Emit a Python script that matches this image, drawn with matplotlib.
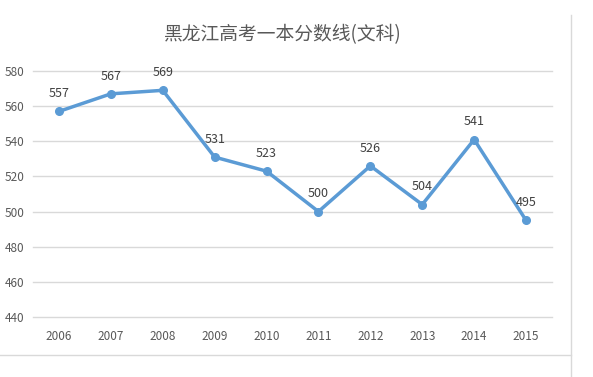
import matplotlib
matplotlib.use("Agg")
import matplotlib.pyplot as plt
from matplotlib.lines import Line2D

plt.rcParams['font.family'] = ['Noto Sans CJK SC', 'DejaVu Sans']

# data
years = ['2006', '2007', '2008', '2009', '2010', '2011', '2012', '2013', '2014', '2015']
scores = [557, 567, 569, 531, 523, 500, 526, 504, 541, 495]
y_ticks = [440, 460, 480, 500, 520, 540, 560, 580]

fig = plt.figure(figsize=(5.93, 3.77), dpi=100)
ax = fig.add_axes([33/593, 1-317/377, (552-33)/593, (317-71)/377])

x = list(range(len(years)))
ax.plot(x, scores, color='#5B9BD5', linewidth=2.5, marker='o', markersize=5.5, zorder=3)
for xi, v in zip(x, scores):
    ax.annotate(str(v), (xi, v), textcoords='offset points', xytext=(0, 8),
                ha='center', va='bottom', fontsize=9, color='#404040')

ax.set_xlim(-0.5, len(years) - 0.5)
ax.set_ylim(440, 580)
ax.set_yticks(y_ticks)
ax.set_xticks(x)
ax.set_xticklabels(years)
ax.tick_params(axis='both', length=0, labelsize=8.5, labelcolor='#595959')
ax.tick_params(axis='x', pad=9)
ax.tick_params(axis='y', pad=6)
ax.grid(axis='y', color='#D9D9D9', linewidth=1)
for gl in ax.get_ygridlines():
    gl.set_clip_on(False)
ax.set_axisbelow(True)
for s in ax.spines.values():
    s.set_visible(False)

fig.text(283/593, 1-35/377, '黑龙江高考一本分数线(文科)', ha='center', va='center',
         fontsize=13.5, color='#595959')

# chart border lines
fig.add_artist(Line2D([571/593, 571/593], [0, 1-15/377], color='#D9D9D9', linewidth=1))
fig.add_artist(Line2D([0, 571/593], [1-355/377, 1-355/377], color='#D9D9D9', linewidth=1))

fig.savefig('out.png', dpi=100)
